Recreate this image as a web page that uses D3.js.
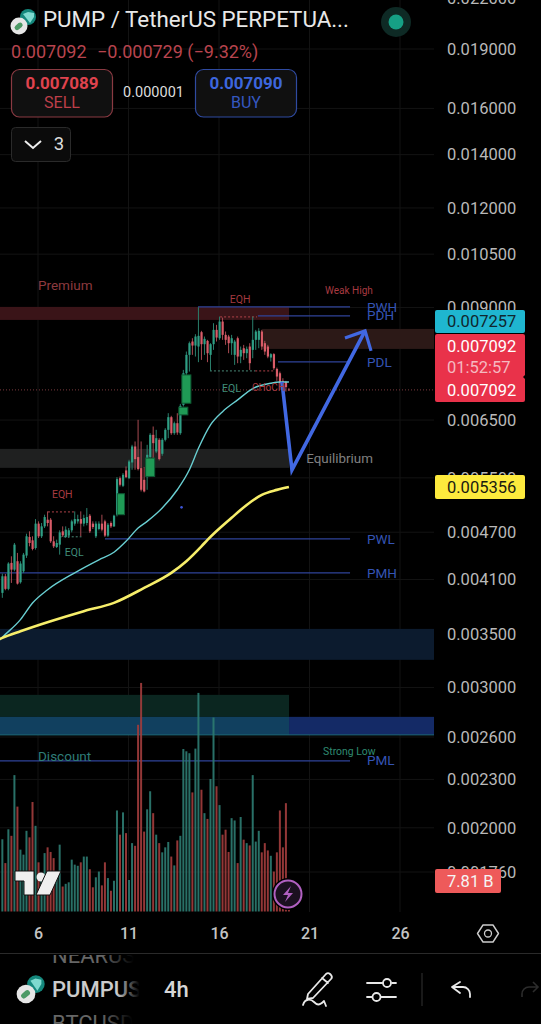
<!DOCTYPE html>
<html><head><meta charset="utf-8">
<script src="https://cdn.jsdelivr.net/npm/d3@7/dist/d3.min.js"></script>
<style>html,body{margin:0;padding:0;background:#000;overflow:hidden}svg{display:block}text{font-family:Roboto,sans-serif}</style>
</head><body><svg id="c" width="541" height="1024"></svg>
<script>
// Prices are in thousandths of USDT. One entry per 4h bar.
const opens=[3.944,4.138,3.990,4.301,4.218,4.322,4.067,4.198,4.393,4.636,4.591,4.490,4.818,4.645,4.780,4.873,4.873,4.578,4.503,4.534,4.712,4.636,4.654,4.726,4.818,4.850,4.882,4.818,4.827,4.930,4.818,4.645,4.744,4.818,4.850,4.654,4.827,4.780,4.944,5.495,5.375,5.619,5.495,5.750,6.022,5.840,5.657,5.469,5.511,5.840,6.228,5.935,6.139,5.896,6.139,6.319,6.554,6.258,6.441,6.258,6.791,7.442,7.848,8.156,8.062,8.039,8.380,8.094,8.172,7.848,8.094,8.436,8.235,8.641,8.315,8.275,8.117,7.848,8.235,7.810,8.000,7.886,8.039,7.962,8.196,8.196,8.396,8.117,8.039,7.787,7.864,7.536,7.442,7.280,7.258,7.100];
const closes=[4.138,3.990,4.293,4.218,4.534,4.051,4.293,4.405,4.645,4.556,4.478,4.818,4.645,4.780,4.911,4.827,4.578,4.512,4.556,4.698,4.658,4.735,4.726,4.850,4.882,4.882,4.818,4.896,4.911,4.712,4.771,4.818,4.818,4.735,4.654,4.803,4.780,4.930,5.480,5.391,5.549,5.511,5.767,6.022,5.806,5.641,5.314,5.288,5.879,6.228,6.080,6.168,5.806,6.139,6.319,6.554,6.258,6.441,6.270,6.772,7.442,7.848,8.117,8.062,8.275,8.291,8.094,8.220,7.886,8.094,8.436,8.251,8.641,8.315,8.196,8.117,8.235,8.156,7.810,7.962,7.886,7.985,7.661,8.196,8.396,8.412,8.039,7.924,7.810,7.864,7.550,7.371,7.230,7.092,7.150,7.092];
const highs=[4.170,4.166,4.309,4.384,4.556,4.427,4.322,4.427,4.680,4.712,4.645,4.882,4.850,4.827,4.944,4.992,4.896,4.645,4.600,4.726,4.780,4.780,4.757,4.873,4.992,4.944,4.992,4.944,5.040,4.954,4.850,4.850,4.850,4.944,4.873,4.827,4.850,4.944,5.511,5.522,5.576,5.684,5.795,6.051,6.110,6.504,6.110,5.673,6.051,6.258,6.380,6.319,6.168,6.168,6.349,6.630,6.580,6.472,6.630,6.811,7.514,7.924,8.156,8.235,8.331,9.006,8.412,8.275,8.196,8.117,8.600,8.559,8.767,8.742,8.396,8.315,8.315,8.196,8.275,8.039,8.078,8.039,8.117,8.767,8.436,8.477,8.436,8.172,8.078,7.886,7.886,7.565,7.478,7.335,7.280,7.130];
const lows=[3.888,3.974,3.974,4.059,4.198,4.040,4.051,4.178,4.363,4.512,4.460,4.469,4.622,4.622,4.757,4.780,4.556,4.490,4.490,4.405,4.636,4.622,4.622,4.698,4.789,4.818,4.645,4.780,4.794,4.689,4.744,4.622,4.726,4.712,4.636,4.636,4.757,4.771,4.920,5.365,5.355,5.495,5.480,5.630,5.630,5.619,5.288,5.273,5.314,5.823,5.823,5.907,5.784,5.862,6.110,6.168,6.228,6.228,6.228,6.228,6.759,7.406,7.478,7.848,7.810,7.684,7.735,7.848,7.684,7.492,7.962,8.156,8.196,8.196,8.078,7.886,7.848,7.624,7.661,7.661,7.735,7.772,7.514,7.772,7.962,8.000,7.962,7.848,7.772,7.698,7.514,7.280,7.092,6.990,7.058,7.090];
// Volume in billions, one entry per bar.
const volumes=[18.8,12.6,21.4,19.7,35.5,27.3,16.1,14.8,21.0,19.3,28.5,22.3,12.8,8.2,15.2,16.7,15.5,13.9,9.1,17.4,6.5,7.2,7.6,13.5,12.2,11.9,12.8,14.3,14.3,11.0,6.3,8.9,10.4,6.8,12.8,8.7,5.4,8.0,26.3,20.0,25.8,20.4,8.2,17.8,17.1,48.6,59.5,20.8,26.6,31.3,25.6,20.0,17.8,15.4,16.7,18.1,14.3,12.0,18.5,19.7,42.3,41.7,41.2,31.0,42.4,56.9,31.7,25.6,24.1,34.5,50.5,32.6,27.7,20.0,21.3,15.5,24.3,23.7,12.6,24.6,18.7,17.8,17.2,35.5,18.2,21.0,15.4,17.8,15.9,14.5,10.4,15.4,26.3,16.7,28.2,7.81];
// Moving averages read at selected bars: [bar, price].
const tealAverage=[[-1,3.44],[0,3.47],[6,3.65],[10,3.83],[15,3.98],[24,4.18],[32,4.34],[37,4.435],[41,4.578],[45,4.757],[48,4.85],[53,5.04],[58,5.314],[62,5.63],[65,5.99],[69,6.41],[73,6.66],[78,6.89],[83,7.12],[89,7.23],[92,7.255],[95,7.257]];
const yellowAverage=[[-1,3.45],[0,3.463],[6,3.53],[16,3.634],[27,3.741],[37,3.832],[47,4.001],[56,4.178],[61,4.322],[66,4.512],[68,4.597],[76,4.90],[81,5.086],[86,5.237],[91,5.312],[95,5.356]];
const priceTicks=[22,19,16,14,12,10.5,9,6.5,5.5,4.7,4.1,3.5,3,2.6,2.3,2,1.76];
const dayTicks=[6,11,16,21,26];
const firstBarDay=4.03, barsPerDay=6, lastPrice=7.092;
// Zones: [startDay,endDay,top,bottom,fill]
const zones=[
 [3.9,19.87,9.015,8.682,"#3a1418"],[18.38,27.88,8.459,7.984,"#2c1917"],[3.9,19.87,5.98,5.661,"#1f2020"],
 [3.9,27.88,3.554,3.25,"#0c1b2e"],[3.9,19.87,2.937,2.756,"#0b2620"],[3.9,19.87,2.756,2.616,"#11405f"],[19.87,27.88,2.756,2.616,"#142a66"]];
// Level lines: [name,price,startDay]
const levels=[["PWH",9.015,14.84],["PDH",8.784,18.15],["PDL",7.69,19.26],["PWL",4.611,9.7],["PMH",4.179,3.9],["PML",2.427,3.9]];
const levelEndDay=23.24;
// Highlighted candles: [firstBar,lastBar,top,bottom]
const boxes=[[38.6,40,5.253,4.944],[48,50,5.823,5.522],[59,61,6.746,6.598],[60,62,7.406,6.824]];
// Dotted structure lines: [startDay,endDay,price,color]
const dotted=[[16.06,18.1,8.758,"#b0424a"],[15.5,18.0,7.492,"#4a8a78"],[18.0,19.1,7.492,"#b0424a"],[6.55,8.05,4.984,"#b0424a"],[7.2,8.4,4.638,"#4a8a78"]];
const arrowPath=[[19.48,7.258],[20.03,5.628],[24.07,8.411]];
const arrowHead=[[22.96,8.242],[24.07,8.411],[24.4,7.938]];
// Chart text: [text,day,price,color,size]
const notes=[["Premium",6,9.60,"#8d3a3f",13.5],["EQH",16.6,9.225,"#a3393f",10.5],["Weak High",21.86,9.44,"#a83a40",10],
 ["PWH",24.18,9.0,"#3454b4",13.5],["PDH",24.18,8.79,"#3454b4",13.5],["PDL",24.18,7.69,"#3454b4",13.5],
 ["EQL",16.17,7.133,"#3f8c78",10.5],["CHoCH",17.82,7.133,"#a83a40",10],["Equilibrium",20.82,5.82,"#808080",13.4],
 ["EQH",6.77,5.25,"#a83a40",10.5],["EQL",7.48,4.44,"#3f8c78",10.5],["PWL",24.18,4.611,"#3454b4",13.5],["PMH",24.18,4.179,"#3454b4",13.5],
 ["Discount",6,2.462,"#2f7d78",13.5],["Strong Low",21.75,2.491,"#2f8a70",10.4],["PML",24.18,2.43,"#3454b4",13.5]];

const svg=d3.select("#c");
const y=d3.scaleLog().domain([19,1.76]).range([49,872]);
const x=d3.scaleLinear().domain([6,26]).range([38,400]);
const barDay=i=>firstBarDay+i/barsPerDay;
const barX=i=>x(barDay(i));
const vol=d3.scaleLinear().domain([0,60]).range([911.5,681]);
const defs=svg.append("defs");
const fade=defs.append("linearGradient").attr("id","fade");
fade.append("stop").attr("offset","0.72").attr("stop-color","#ccc");
fade.append("stop").attr("offset","0.98").attr("stop-color","#ccc").attr("stop-opacity",0);
const fade2=defs.append("linearGradient").attr("id","fade2");
fade2.append("stop").attr("offset","0.6").attr("stop-color","#666");
fade2.append("stop").attr("offset","0.98").attr("stop-color","#666").attr("stop-opacity",0);
defs.append("clipPath").attr("id","plot").append("rect").attr("x",0).attr("y",0).attr("width",434).attr("height",912);
defs.append("clipPath").attr("id","list").append("rect").attr("x",0).attr("y",955).attr("width",541).attr("height",69);

// grid
const g=svg.append("g");
g.selectAll(".gh").data(priceTicks).join("line").attr("x1",0).attr("x2",434).attr("y1",d=>y(d)).attr("y2",d=>y(d)).attr("stroke","#131313");
g.selectAll(".gv").data(dayTicks).join("line").attr("x1",d=>x(d)).attr("x2",d=>x(d)).attr("y1",0).attr("y2",912).attr("stroke","#131313");

const plot=svg.append("g").attr("clip-path","url(#plot)");
// zones
plot.selectAll(".z").data(zones).join("rect").attr("x",d=>x(d[0])).attr("width",d=>x(d[1])-x(d[0])).attr("y",d=>y(d[2])).attr("height",d=>y(d[3])-y(d[2])).attr("fill",d=>d[4]);
plot.append("line").attr("x1",x(3.9)).attr("x2",x(27.88)).attr("y1",y(2.616)).attr("y2",y(2.616)).attr("stroke","#1f6a78").attr("stroke-width",1);
// levels
plot.selectAll(".l").data(levels).join("line").attr("x1",d=>x(d[2])).attr("x2",x(levelEndDay)).attr("y1",d=>y(d[1])).attr("y2",d=>y(d[1])).attr("stroke","#2f4399").attr("stroke-width",1.3);
// last price
plot.append("line").attr("x1",0).attr("x2",434).attr("y1",y(lastPrice)).attr("y2",y(lastPrice)).attr("stroke","#7a3a3e").attr("stroke-dasharray","1 2");
// dotted
plot.selectAll(".d").data(dotted).join("line").attr("x1",d=>x(d[0])).attr("x2",d=>x(d[1])).attr("y1",d=>y(d[2])).attr("y2",d=>y(d[2])).attr("stroke",d=>d[3]).attr("stroke-dasharray","2 2");
// volume
const isUp=i=>closes[i]>=opens[i];
plot.selectAll(".v").data(volumes).join("rect").attr("x",(d,i)=>barX(i)-1).attr("width",2).attr("y",d=>vol(d)).attr("height",d=>vol(0)-vol(d)).attr("fill",(d,i)=>isUp(i)?"#2c7a70":"#a03c3c").attr("opacity",0.92);
// candles
const up="#2f9e84",down="#d85c68";
plot.selectAll(".w").data(opens).join("line").attr("x1",(d,i)=>barX(i)).attr("x2",(d,i)=>barX(i)).attr("y1",(d,i)=>y(highs[i])).attr("y2",(d,i)=>y(lows[i])).attr("stroke",(d,i)=>isUp(i)?"#2a7f6c":"#a84a52").attr("stroke-width",1);
plot.selectAll(".b").data(opens).join("rect").attr("x",(d,i)=>barX(i)-1).attr("width",2.2).attr("y",(d,i)=>y(Math.max(d,closes[i]))).attr("height",(d,i)=>Math.max(1,Math.abs(y(d)-y(closes[i])))).attr("fill",(d,i)=>isUp(i)?up:down);
plot.selectAll(".bx").data(boxes).join("rect").attr("x",d=>barX(d[0])-1.5).attr("width",d=>barX(d[1])-barX(d[0])+3).attr("y",d=>y(d[2])).attr("height",d=>y(d[3])-y(d[2])).attr("fill","#1f9a55").attr("stroke","#0e5a34").attr("stroke-width",1);
// averages
const line=d3.line().x(d=>barX(d[0])).y(d=>y(d[1])).curve(d3.curveMonotoneX);
plot.append("path").attr("d",line(tealAverage)).attr("fill","none").attr("stroke","#69cfd2").attr("stroke-width",1.4);
plot.append("path").attr("d",line(yellowAverage)).attr("fill","none").attr("stroke","#f7ee6a").attr("stroke-width",2.6);
// arrow
const al=d3.line().x(d=>x(d[0])).y(d=>y(d[1]));
plot.append("path").attr("d",al(arrowPath)).attr("fill","none").attr("stroke","#4168e2").attr("stroke-width",3.6).attr("stroke-linejoin","miter");
plot.append("path").attr("d",al(arrowHead)).attr("fill","none").attr("stroke","#4168e2").attr("stroke-width",3.2);
// small dot
plot.append("circle").attr("cx",x(13.93)).attr("cy",y(5.05)).attr("r",1.3).attr("fill","#3d55d8");
// notes
plot.selectAll(".n").data(notes).join("text").attr("x",d=>x(d[1])).attr("y",d=>y(d[2])).attr("dy","0.35em").attr("fill",d=>d[3]).attr("font-size",d=>d[4]).text(d=>d[0]);

// axes
const ya=svg.append("g").attr("transform","translate(447,0)").call(d3.axisRight(y).tickValues(priceTicks).tickSize(0).tickPadding(0).tickFormat(d=>(d/1000).toFixed(6)));
ya.select(".domain").remove();ya.selectAll("text").attr("fill","#b9b9b9").attr("font-size",16.5).attr("font-family","Roboto");
const xa=svg.append("g").attr("transform","translate(0,928)").call(d3.axisBottom(x).tickValues(dayTicks).tickSize(0).tickPadding(0).tickFormat(d=>d));
xa.select(".domain").remove();xa.selectAll("text").attr("fill","#c4c4c4").attr("font-size",16).attr("font-weight",500).attr("font-family","Roboto");

// price labels
function lab(yy,h,fill,t,col){svg.append("rect").attr("x",435).attr("y",yy).attr("width",90).attr("height",h).attr("rx",2).attr("fill",fill);
 if(t)svg.append("text").attr("x",447).attr("y",yy+h/2).attr("dy","0.35em").attr("fill",col).attr("font-size",16.5).text(t);}
lab(310,23,"#1fb6d0","0.007257","#10262e");
svg.append("rect").attr("x",435).attr("y",334).attr("width",90).attr("height",68).attr("rx",2).attr("fill","#e9324a");
svg.append("path").attr("d","M526 374l-3 3 3 3z").attr("fill","#000");
[["0.007092",346,"#fff"],["01:52:57",367,"#f5b9c0"],["0.007092",390,"#fff"]].forEach(a=>svg.append("text").attr("x",447).attr("y",a[1]).attr("dy","0.35em").attr("fill",a[2]).attr("font-size",16.5).text(a[0]));
lab(475,24,"#fdea3d","0.005356","#1a1a10");
svg.append("rect").attr("x",435).attr("y",869).attr("width",66).attr("height",24).attr("rx",2).attr("fill","#ee5a5a");
svg.append("text").attr("x",447).attr("y",881).attr("dy","0.35em").attr("fill","#f5f5f5").attr("font-size",16.5).text("7.81 B");

// header
function logo(cx,cy,s){
 svg.append("circle").attr("cx",cx+9*s).attr("cy",cy-9*s).attr("r",8*s).attr("fill","#14877c");
 svg.append("path").attr("d",`M${cx+4*s} ${cy-12*s}l5 ${-2*s} 6 ${1*s} 0 ${4*s}-4 ${6*s}z`).attr("fill","#7fd9cf");
 svg.append("circle").attr("cx",cx).attr("cy",cy).attr("r",8.5*s).attr("fill","#e6e6e6");
 svg.append("rect").attr("x",cx-5*s).attr("y",cy-2.5*s).attr("width",9*s).attr("height",5*s).attr("rx",2.5*s).attr("transform",`rotate(-40 ${cx} ${cy})`).attr("fill","#4d9a66");
}
logo(19,26,1);
svg.append("text").attr("x",43).attr("y",27).attr("fill","#e8e8e8").attr("font-size",22.35).text("PUMP / TetherUS PERPETUA...");
svg.append("text").attr("x",11).attr("y",58).attr("fill","#b8444e").attr("font-size",18).text("0.007092");
svg.append("text").attr("x",97).attr("y",58).attr("fill","#b8444e").attr("font-size",18).text("−0.000729 (−9.32%)");
function btn(x0,st,c1,c2,p,t){svg.append("rect").attr("x",x0+.5).attr("y",69.5).attr("width",101).attr("height",47.5).attr("rx",8).attr("fill","#101010").attr("stroke",st).attr("stroke-width",1.2);
 svg.append("text").attr("x",x0+51).attr("y",88.5).attr("text-anchor","middle").attr("fill",c1).attr("font-size",17).attr("font-weight",700).text(p);
 svg.append("text").attr("x",x0+51).attr("y",107.5).attr("text-anchor","middle").attr("fill",c2).attr("font-size",16).text(t);}
btn(11,"#8a3a42","#e0434e","#bd3f49","0.007089","SELL");
btn(195,"#2f4aa0","#3d66dd","#3558c0","0.007090","BUY");
svg.append("text").attr("x",153.5).attr("y",97).attr("text-anchor","middle").attr("fill","#dcdcdc").attr("font-size",14.5).text("0.000001");
svg.append("rect").attr("x",11.5).attr("y",127.5).attr("width",59).attr("height",34).attr("rx",4).attr("fill","#0b0b0b").attr("stroke","#2a2a2a");
svg.append("path").attr("d","M25 141l8 7 8-7").attr("fill","none").attr("stroke","#eee").attr("stroke-width",2);
svg.append("text").attr("x",59).attr("y",150).attr("text-anchor","middle").attr("fill","#ddd").attr("font-size",18.5).text("3");
svg.append("circle").attr("cx",396).attr("cy",22).attr("r",15).attr("fill","#0e2a25");
svg.append("circle").attr("cx",396).attr("cy",22).attr("r",7.5).attr("fill","#16a085");

// watermark logo
svg.append("path").attr("d","M15 871h19v24h-10v-14h-9z").attr("fill","#efefef").attr("stroke","#111");
svg.append("circle").attr("cx",41).attr("cy",877).attr("r",4.5).attr("fill","#efefef");
svg.append("path").attr("d","M47 871h14l-11 24h-14z").attr("fill","#efefef").attr("stroke","#111");
// bolt badge
svg.append("circle").attr("cx",288).attr("cy",894).attr("r",16).attr("fill","#000");
svg.append("circle").attr("cx",288).attr("cy",894).attr("r",13.5).attr("fill","#1b1020").attr("stroke","#b060c0").attr("stroke-width",2);
svg.append("path").attr("d","M291 886l-8 9h5l-3 7 8-9h-5z").attr("fill","#b060c0");

// settings icon
svg.append("path").attr("d","M477.5 933.5L483 925H493L498.5 933.5L493 942H483Z").attr("fill","none").attr("stroke","#ccc").attr("stroke-width",1.4).attr("stroke-linejoin","round");
svg.append("circle").attr("cx",488).attr("cy",933.5).attr("r",3.5).attr("fill","none").attr("stroke","#ccc").attr("stroke-width",1.3);

// bottom bar
svg.append("line").attr("x1",0).attr("x2",541).attr("y1",953.5).attr("y2",953.5).attr("stroke","#2a2a2a").attr("stroke-width",1.2);
const lst=svg.append("g").attr("clip-path","url(#list)");
lst.append("text").attr("x",52).attr("y",963).attr("fill","url(#fade2)").attr("font-size",22).text("NEARUS");
lst.append("text").attr("x",52).attr("y",1031).attr("fill","url(#fade2)").attr("font-size",22).text("BTCUSD");
svg.append("text").attr("x",52).attr("y",997).attr("fill","url(#fade)").attr("font-size",22).attr("font-weight",500).text("PUMPUS");
logo(26,994,1.1);
svg.append("text").attr("x",164).attr("y",997).attr("fill","#d6d6d6").attr("font-size",22).attr("font-weight",500).text("4h");
const ic=svg.append("g").attr("fill","none").attr("stroke","#e8e8e8").attr("stroke-width",1.8).attr("stroke-linecap","round").attr("stroke-linejoin","round");
ic.append("path").attr("d","M308 994l18-20a3 3 0 0 1 4 0l1 1a3 3 0 0 1 0 4l-18 19-6 1zM322 978l6 5");
ic.append("path").attr("d","M303 1005c2-7 8-6 11-3s5 4 10-1l2 5");
ic.append("path").attr("d","M367 983h16M392 983h4M367 997h5M381 997h15");
ic.append("circle").attr("cx",387).attr("cy",983).attr("r",4);
ic.append("circle").attr("cx",376.5).attr("cy",997).attr("r",4);
ic.append("path").attr("d","M460 982l-8 5 8 6M453 987h10a7 7 0 0 1 7 7v3");
svg.append("line").attr("x1",422).attr("x2",422).attr("y1",973).attr("y2",1006).attr("stroke","#333");
svg.append("path").attr("d","M533 982l5 5-5 5M538 987h-9a7 7 0 0 0-7 7v3").attr("fill","none").attr("stroke","#2c2c2c").attr("stroke-width",1.6);
</script></body></html>
